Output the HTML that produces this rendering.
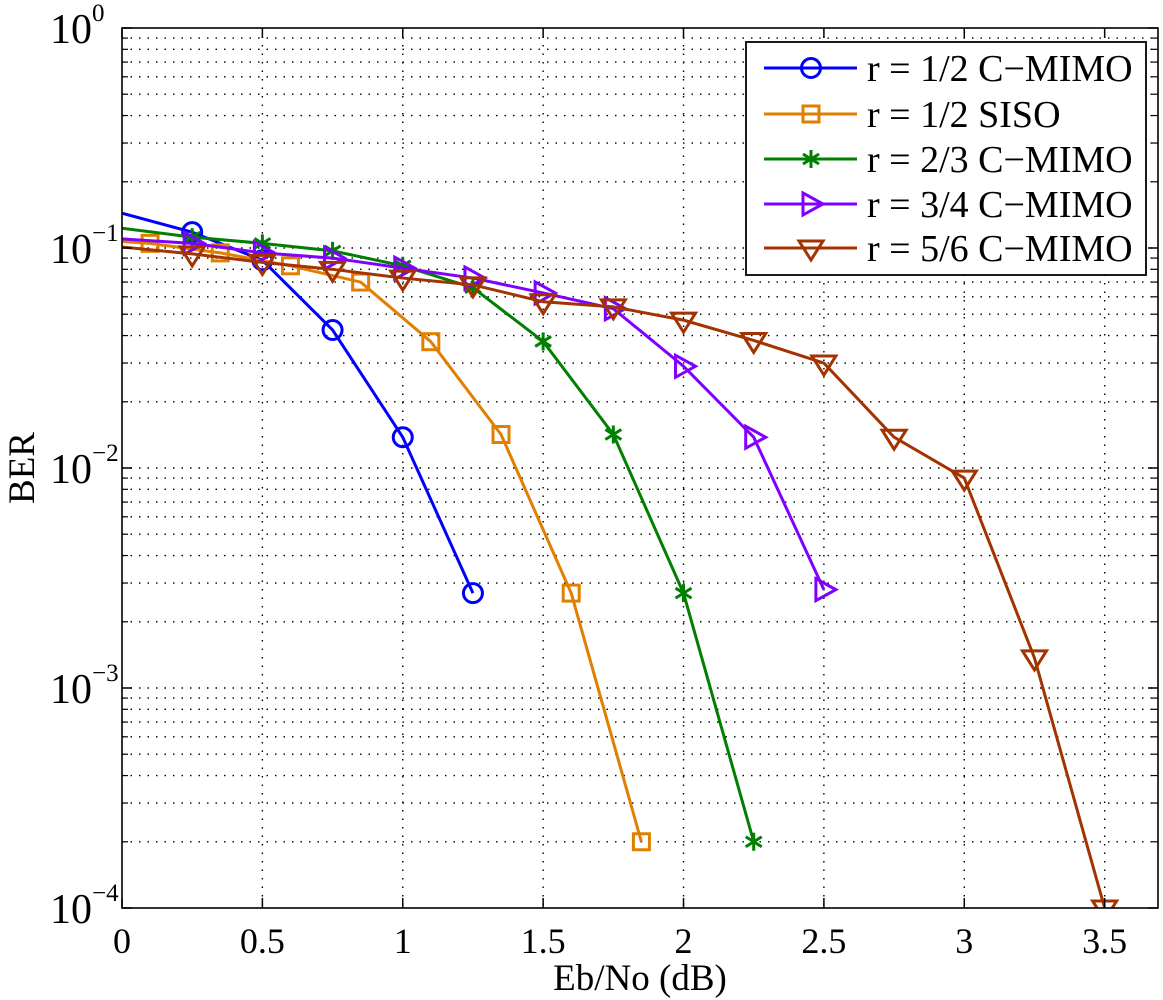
<!DOCTYPE html>
<html><head><meta charset="utf-8"><style>
body{margin:0;background:#fff}
svg{display:block;font-family:"Liberation Serif",serif}
</style></head><body>
<svg id="chart" width="1163" height="1000" xmlns="http://www.w3.org/2000/svg">
<g id="grid"></g>
<g id="series" clip-path="url(#clip)"></g>
<defs><clipPath id="clip"><rect x="122" y="28" width="1036" height="880"/></clipPath></defs>
<g id="axes"></g>
<g id="legend"></g>
</svg>
<script>
const xTicks=[0,0.5,1,1.5,2,2.5,3,3.5];
const xTickLabels=["0","0.5","1","1.5","2","2.5","3","3.5"];
const yDecades=[0,-1,-2,-3,-4];
const seriesNames=["r = 1/2 C\u2212MIMO","r = 1/2 SISO","r = 2/3 C\u2212MIMO","r = 3/4 C\u2212MIMO","r = 5/6 C\u2212MIMO"];
const blueX=[0,0.25,0.5,0.75,1.0,1.25];
const blueY=[0.144,0.118,0.088,0.0424,0.0138,0.0027];
const orangeX=[0,0.1,0.35,0.6,0.85,1.1,1.35,1.6,1.85];
const orangeY=[0.107,0.105,0.095,0.083,0.07,0.0375,0.0142,0.0027,0.0002];
const greenX=[0,0.25,0.5,0.75,1.0,1.25,1.5,1.75,2.0,2.25];
const greenY=[0.123,0.112,0.105,0.097,0.083,0.066,0.0376,0.0142,0.0027,0.0002];
const purpleX=[0,0.25,0.5,0.75,1.0,1.25,1.5,1.75,2.0,2.25,2.5];
const purpleY=[0.11,0.105,0.095,0.09,0.081,0.073,0.0625,0.053,0.029,0.0138,0.0028];
const brownX=[0,0.25,0.5,0.75,1.0,1.25,1.5,1.75,2.0,2.25,2.5,2.75,3.0,3.25,3.5];
const brownY=[0.101,0.094,0.086,0.08,0.073,0.068,0.057,0.054,0.047,0.038,0.030,0.0138,0.0090,0.00137,0.0001];

const L=122,R=1158,T=28,B=908;
const xs=v=>L+(v/3.69)*(R-L);
const ys=v=>T+(-Math.log10(v))/4*(B-T);
const NS="http://www.w3.org/2000/svg";
function mk(tag,attrs,parent){const e=document.createElementNS(NS,tag);for(const k in attrs)e.setAttribute(k,attrs[k]);parent.appendChild(e);return e;}
const grid=document.getElementById('grid'),axes=document.getElementById('axes'),ser=document.getElementById('series'),leg=document.getElementById('legend');
const dot={stroke:"#000","stroke-width":1.4,"stroke-dasharray":"1.5 7",fill:"none"};
xTicks.forEach((t,i)=>{
 if(t>0){const g=mk('line',Object.assign({x1:xs(t),x2:xs(t),y1:T,y2:B},dot),grid);
 }
 mk('line',{x1:xs(t),x2:xs(t),y1:B,y2:B-10,stroke:"#000","stroke-width":1.5},axes);
 mk('line',{x1:xs(t),x2:xs(t),y1:T,y2:T+10,stroke:"#000","stroke-width":1.5},axes);
 const tx=mk('text',{x:xs(t),y:B+45,"text-anchor":"middle","font-size":36},axes);tx.textContent=xTickLabels[i];
 
});
yDecades.forEach(d=>{
 const y=ys(Math.pow(10,d));
 mk('line',{x1:L,x2:L+10,y1:y,y2:y,stroke:"#000","stroke-width":1.5},axes);
 mk('line',{x1:R,x2:R-10,y1:y,y2:y,stroke:"#000","stroke-width":1.5},axes);
 if(d<0&&d>-4){const g=mk('line',Object.assign({x1:L,x2:R,y1:y,y2:y},dot),grid);}
 if(d>-4){for(let m=2;m<=9;m++){const yy=ys(m*Math.pow(10,d-1));mk('line',Object.assign({x1:L,x2:R,y1:yy,y2:yy},dot),grid);mk('line',{x1:L,x2:L+6,y1:yy,y2:yy,stroke:"#000","stroke-width":1.2},axes);mk('line',{x1:R,x2:R-6,y1:yy,y2:yy,stroke:"#000","stroke-width":1.2},axes);}}
 const tx=mk('text',{x:d===0?50:50,y:y+15,"font-size":42},axes);
 
 tx.innerHTML='10<tspan dy="-22" font-size="25">'+(d===0?'0':'\u2212'+(-d))+'</tspan>';
});
mk('rect',{x:L,y:T,width:R-L,height:B-T,fill:"none",stroke:"#000","stroke-width":1.6},axes);
let xl=mk('text',{x:(L+R)/2,y:990,"text-anchor":"middle","font-size":37},axes);xl.textContent="Eb/No (dB)";

let yl=mk('text',{x:0,y:0,"text-anchor":"middle","font-size":37,transform:"translate(34,468) rotate(-90)"},axes);yl.textContent="BER";


const colors=["#0000ff","#e07f00","#007f00","#7f00ff","#a33300"];
const markers=["circle","square","star","tri-right","tri-down"];
function marker(type,x,y,c,p){
 const s={fill:"none",stroke:c,"stroke-width":3};let e;
 if(type=="circle")e=mk('circle',Object.assign({cx:x,cy:y,r:9.5},s),p);
 else if(type=="square")e=mk('rect',Object.assign({x:x-8,y:y-8,width:16,height:16},s),p);
 else if(type=="star"){e=mk('path',Object.assign({d:`M${x} ${y-9}V${y+9}M${x-8} ${y-5}L${x+8} ${y+5}M${x-8} ${y+5}L${x+8} ${y-5}`},s),p);}
 else if(type=="tri-right")e=mk('path',Object.assign({d:`M${x-8} ${y-11}L${x+12} ${y}L${x-8} ${y+11}Z`},s),p);
 else e=mk('path',Object.assign({d:`M${x-12} ${y-7}L${x+12} ${y-7}L${x} ${y+12}Z`},s),p);
 
}
const allX=[blueX,orangeX,greenX,purpleX,brownX],allY=[blueY,orangeY,greenY,purpleY,brownY];
allX.forEach((X,si)=>{
 const pts=X.map((v,i)=>xs(v)+','+ys(allY[si][i])).join(' ');
 const pl=mk('polyline',{points:pts,fill:"none",stroke:colors[si],"stroke-width":3},ser);
 
 X.forEach((v,i)=>{if(v>0)marker(markers[si],xs(v),ys(allY[si][i]),colors[si],ser);});
});
const lb=mk('rect',{x:746,y:42,width:400,height:233,fill:"#fff",stroke:"#000","stroke-width":1.8},leg);

const ly=[68,114,159,204,248];
seriesNames.forEach((n,i)=>{
 const g=mk('g',{},leg);
 mk('line',{x1:764,x2:857,y1:ly[i],y2:ly[i],stroke:colors[i],"stroke-width":3},g);
 marker(markers[i],811,ly[i],colors[i],g);
 const t=mk('text',{x:867,y:ly[i]+13,"font-size":38},g);t.textContent=n;
});
</script>
</body></html>
